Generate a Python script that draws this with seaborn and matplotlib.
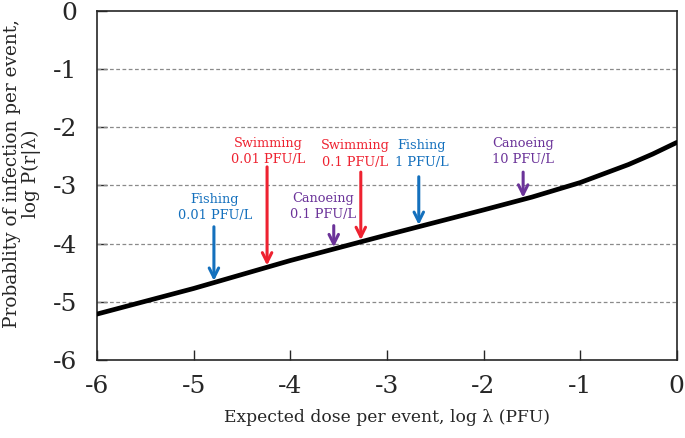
import numpy as np
import pandas as pd
import seaborn as sns
import matplotlib.pyplot as plt

# dose-response curve
log_dose = [-6, -5, -4, -3, -2, -1.5, -1, -0.5, -0.25, 0]
log_prob = [-5.21, -4.77, -4.29, -3.85, -3.42, -3.20, -2.95, -2.64, -2.46, -2.26]

# scenario markers
activities = ["Fishing", "Swimming", "Canoeing", "Swimming", "Fishing", "Canoeing"]
concentrations = ["0.01 PFU/L", "0.01 PFU/L", "0.1 PFU/L", "0.1 PFU/L", "1 PFU/L", "10 PFU/L"]
scenario_dose = [-4.79, -4.24, -3.55, -3.27, -2.67, -1.59]

activity_colors = {"Fishing": "#1470BD", "Swimming": "#EE2230", "Canoeing": "#6B3399"}

# label placement (text centre x, text centre y, arrow tail y)
label_x = [-4.78, -4.23, -3.66, -3.33, -2.64, -1.59]
label_y = [-3.38, -2.42, -3.36, -2.46, -2.46, -2.42]
tail_y = [-3.71, -2.68, -3.69, -2.77, -2.85, -2.77]

x_ticks = [-6, -5, -4, -3, -2, -1, 0]
y_ticks = [-6, -5, -4, -3, -2, -1, 0]

sns.set_style("ticks")
plt.rcParams["font.family"] = ["DejaVu Serif"]

curve = pd.DataFrame({"log_dose": log_dose, "log_prob": log_prob})

fig = plt.figure(figsize=(6.85, 4.38), dpi=100)
ax = fig.add_axes([0.1416, 0.178, 0.8464, 0.797])

for yv in y_ticks[1:-1]:
    ax.axhline(yv, color="#8a8a8a", lw=0.9, ls=(0, (3, 2)), zorder=1)

sns.lineplot(data=curve, x="log_dose", y="log_prob", color="black", lw=3.4, ax=ax, zorder=3)

for act, conc, d, lx, ly, ty in zip(activities, concentrations, scenario_dose, label_x, label_y, tail_y):
    c = activity_colors[act]
    tip = np.interp(d, log_dose, log_prob) + 0.03
    ax.annotate("", xy=(d, tip), xytext=(d, ty),
                arrowprops=dict(arrowstyle="->", color=c, lw=2.2, mutation_scale=17,
                                shrinkA=0, shrinkB=0), zorder=4)
    ax.text(lx, ly, act + "\n" + conc, color=c, fontsize=9.3, ha="center", va="center",
            linespacing=1.35, zorder=5)

ax.set_xlim(-6, 0)
ax.set_ylim(-6, 0)
ax.set_xticks(x_ticks)
ax.set_yticks(y_ticks)
ax.set_xticklabels([str(t) for t in x_ticks], fontsize=18)
ax.set_yticklabels([str(t) for t in y_ticks], fontsize=18)
ax.tick_params(direction="in", length=7, width=1, pad=11)
ax.tick_params(axis="y", pad=14)
for s in ax.spines.values():
    s.set_linewidth(1.2)
    s.set_visible(True)

ax.set_xlabel("Expected dose per event, log \u03bb (PFU)", fontsize=12.3, labelpad=8)
ax.set_ylabel("Probablity of infection per event,\nlog P(r|\u03bb)", fontsize=13.3, linespacing=1.05)
ax.yaxis.set_label_coords(-0.097, 0.535)

fig.savefig("out.png", dpi=100)
